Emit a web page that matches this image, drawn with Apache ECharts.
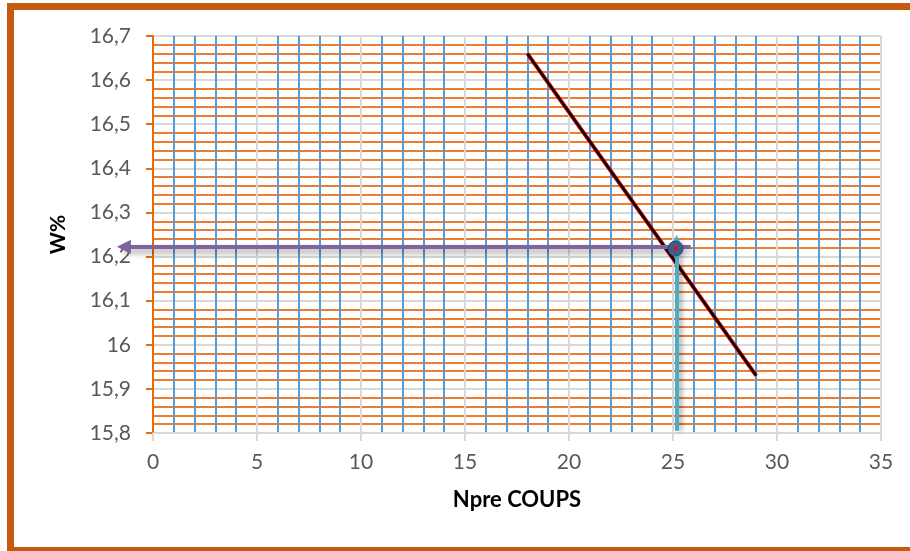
<!DOCTYPE html>
<html>
<head>
<meta charset="utf-8">
<script src="https://cdn.jsdelivr.net/npm/echarts@6/dist/echarts.min.js"></script>
<style>
  html, body { margin: 0; padding: 0; background: #fff; overflow: hidden; }
  #frame { position: absolute; left: 7px; top: 3px; width: 920px; height: 551px; border: 7px solid #c55a11; box-sizing: border-box; }
  #main { position: absolute; left: 0; top: 0; width: 910px; height: 551px; }
</style>
</head>
<body>
<div id="frame"></div>
<div id="main"></div>
<script>
// courbe W% = f(nombre de coups)
var coups = [18, 29];
var teneur = [16.66, 15.93];
// lecture graphique a 25 coups
var pointLu = [25.12, 16.218];
var flecheW = [[25.85, 16.222], [-1.4, 16.222]];
var flecheN = [[25.17, 15.805], [25.17, 16.235]];

var xTicks = { min: 0, max: 35, interval: 5 };
var yTicks = { min: 15.8, max: 16.7, interval: 0.1 };

var trend = coups.map(function (c, i) { return [c, teneur[i]]; });

var myChart = echarts.init(document.getElementById('main'));
var police = 'Lato, "Open Sans", sans-serif';

option = {
    animation: false,
    grid: { left: 153, right: 29, top: 36, bottom: 118 },
    xAxis: {
        type: 'value',
        min: xTicks.min, max: xTicks.max, interval: xTicks.interval,
        name: 'Npre COUPS',
        nameLocation: 'middle',
        nameGap: 56,
        nameTextStyle: { color: '#000', fontWeight: 'bold', fontSize: 22, fontFamily: police },
        axisLine: { show: true, lineStyle: { color: '#d9d9d9', width: 2 } },
        axisTick: { show: true, length: 8, lineStyle: { color: '#d9d9d9', width: 2 } },
        axisLabel: { color: '#595959', fontSize: 21, fontFamily: police, margin: 19 },
        splitLine: { show: true, lineStyle: { color: '#d9d9d9', width: 2 } },
        minorTick: { show: false, splitNumber: 5 },
        minorSplitLine: { show: true, lineStyle: { color: '#5b9bd5', width: 2 } }
    },
    yAxis: {
        type: 'value',
        min: yTicks.min, max: yTicks.max, interval: yTicks.interval,
        name: 'W%',
        nameLocation: 'middle',
        nameGap: 84,
        nameTextStyle: { color: '#000', fontWeight: 'bold', fontSize: 21, fontFamily: police },
        axisLine: { show: true, lineStyle: { color: '#e46c0a', width: 2 } },
        axisTick: { show: true, length: 7, lineStyle: { color: '#e46c0a', width: 2 } },
        axisLabel: {
            color: '#595959', fontSize: 21, fontFamily: police, margin: 22,
            formatter: function (v) { return String(Math.round(v * 10) / 10).replace('.', ','); }
        },
        splitLine: { show: true, lineStyle: { color: '#d9d9d9', width: 2 } },
        minorTick: { show: false, splitNumber: 5 },
        minorSplitLine: { show: true, lineStyle: { color: '#ed7d31', width: 2.2 } }
    },
    series: [{
        type: 'line',
        data: trend,
        symbol: 'none',
        lineStyle: { color: '#c00000', width: 4 },
        z: 3
    }, {
        type: 'line',
        data: trend,
        symbol: 'none',
        lineStyle: { color: '#000', width: 2 },
        z: 4
    }, {
        type: 'lines',
        coordinateSystem: 'cartesian2d',
        clip: false,
        symbol: ['none', 'triangle'],
        symbolSize: [15, 14],
        lineStyle: {
            color: '#8064a2', width: 4, opacity: 1,
            shadowColor: 'rgba(0,0,0,0.4)', shadowBlur: 6, shadowOffsetY: 4
        },
        data: [{ coords: flecheW }],
        z: 5
    }, {
        type: 'lines',
        coordinateSystem: 'cartesian2d',
        clip: false,
        symbol: ['none', 'triangle'],
        symbolSize: [11, 12],
        lineStyle: {
            color: '#4bacc6', width: 4, opacity: 1,
            shadowColor: 'rgba(0,0,0,0.35)', shadowBlur: 5, shadowOffsetX: 3
        },
        data: [{ coords: flecheN }],
        z: 6
    }, {
        type: 'scatter',
        data: [pointLu],
        symbolSize: 15,
        itemStyle: { color: '#3b5e8c', borderColor: '#2d4a70', borderWidth: 1, opacity: 1 },
        z: 7
    }, {
        type: 'scatter',
        data: [pointLu],
        symbolSize: 4,
        itemStyle: { color: '#ff0000', opacity: 1 },
        z: 8
    }]
};
myChart.setOption(option);
</script>
</body>
</html>
